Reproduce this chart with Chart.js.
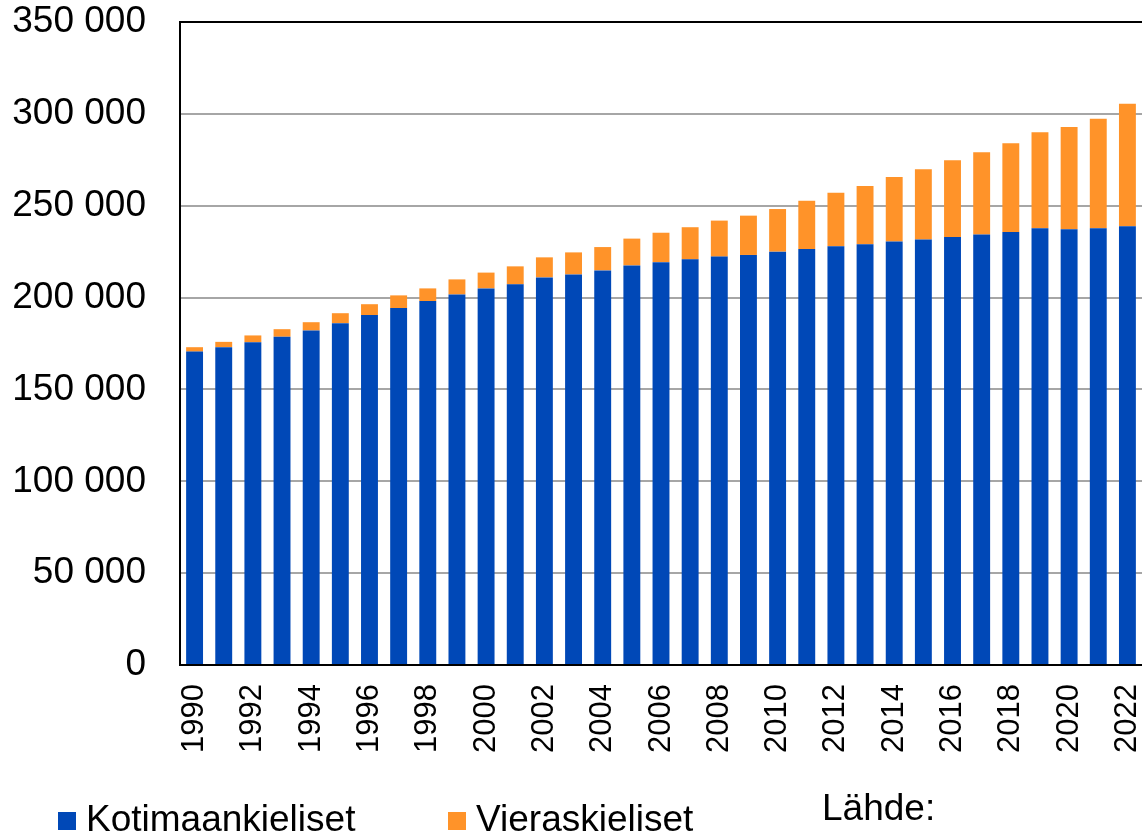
<!DOCTYPE html>
<html>
<head>
<meta charset="utf-8">
<script src="https://cdn.jsdelivr.net/npm/chart.js@4"></script>
<style>
  html, body { margin: 0; padding: 0; background: #fff; }
  #wrap { position: relative; width: 1142px; height: 837px; }
</style>
</head>
<body>
<div id="wrap"><canvas id="mycanvas" width="1142" height="837"></canvas></div>
<script>
var years = [];
for (var y = 1990; y <= 2022; y++) years.push(String(y));

// kotimaankieliset (suomen- ja ruotsinkieliset)
var kotimaa = [170600, 173000, 175700, 178700, 182100, 186100, 190500, 194300, 198100, 201700,
               205000, 207200, 211000, 212600, 214800, 217500, 219300, 220800, 222300, 223200,
               225000, 226400, 227900, 229000, 230500, 231600, 233000, 234400, 235700, 237700,
               237200, 237700, 238800];
// vieraskieliset
var vieras = [2400, 2900, 3700, 4100, 4500, 5400, 5900, 6900, 6900, 8200,
              8600, 9800, 10900, 12000, 12700, 14600, 16000, 17500, 19600, 21400,
              23200, 26300, 29100, 31800, 35200, 38300, 41800, 44700, 48300, 52300,
              55700, 59600, 66700];

var yTicks = [0, 50000, 100000, 150000, 200000, 250000, 300000, 350000];

var FONT = "'Liberation Sans', Arial, sans-serif";

function fmt(v) {
	return String(v).replace(/\B(?=(\d{3})+(?!\d))/g, ' ');
}

// oma selite alareunaan
var legendPlugin = {
	id: 'omaSelite',
	afterDraw: function(chart) {
		var c = chart.ctx;
		var pos = [58, 448];
		c.save();
		c.font = '37px ' + FONT;
		c.textBaseline = 'middle';
		chart.data.datasets.forEach(function(ds, i) {
			c.fillStyle = ds.backgroundColor;
			c.fillRect(pos[i], 812, 18, 18);
			c.fillStyle = '#000';
			c.fillText(ds.label, pos[i] + 28, 821);
		});
		c.fillStyle = '#000';
		c.fillText('Lähde:', 822, 810);
		c.restore();
	}
};

var chartdata = {
	labels: years,
	datasets: [
		{
			label: 'Kotimaankieliset',
			backgroundColor: '#0048B7',
			data: kotimaa
		},
		{
			label: 'Vieraskieliset',
			backgroundColor: '#FF9329',
			data: vieras
		}
	]
};

var ctx = document.getElementById('mycanvas');

var BarGraph = new Chart(ctx, {
	type: 'bar',
	data: chartdata,
	plugins: [legendPlugin],
	options: {
		responsive: false,
		animation: false,
		datasets: {
			bar: { barPercentage: 0.58, categoryPercentage: 1.0 }
		},
		layout: {
			padding: { top: 22, right: 0, bottom: 65, left: 0 }
		},
		plugins: {
			legend: { display: false },
			tooltip: { enabled: false }
		},
		scales: {
			x: {
				stacked: true,
				afterFit: function(s) { s.paddingLeft = 0; s.paddingRight = 0; },
				grid: { display: false, drawTicks: false },
				border: { display: true, color: '#000', width: 2 },
				ticks: {
					autoSkip: false,
					minRotation: 90,
					maxRotation: 90,
					padding: 19,
					color: '#000',
					font: { family: FONT, size: 31 },
					callback: function(v, i) {
						return i % 2 === 0 ? years[i] : '';
					}
				}
			},
			y: {
				stacked: true,
				min: 0,
				max: 350000,
				afterFit: function(s) { s.width = 180; s.paddingTop = 0; s.paddingBottom = 0; },
				afterBuildTicks: function(s) {
					s.ticks = yTicks.map(function(v) { return { value: v }; });
				},
				grid: {
					drawTicks: false,
					lineWidth: 2,
					color: function(c) {
						return c.tick && c.tick.value === 350000 ? '#000' : '#A6A6A6';
					}
				},
				border: { display: true, color: '#000', width: 2 },
				ticks: {
					padding: 34,
					color: '#000',
					font: { family: FONT, size: 37 },
					callback: function(v) { return fmt(v); }
				}
			}
		}
	}
});
</script>
</body>
</html>
